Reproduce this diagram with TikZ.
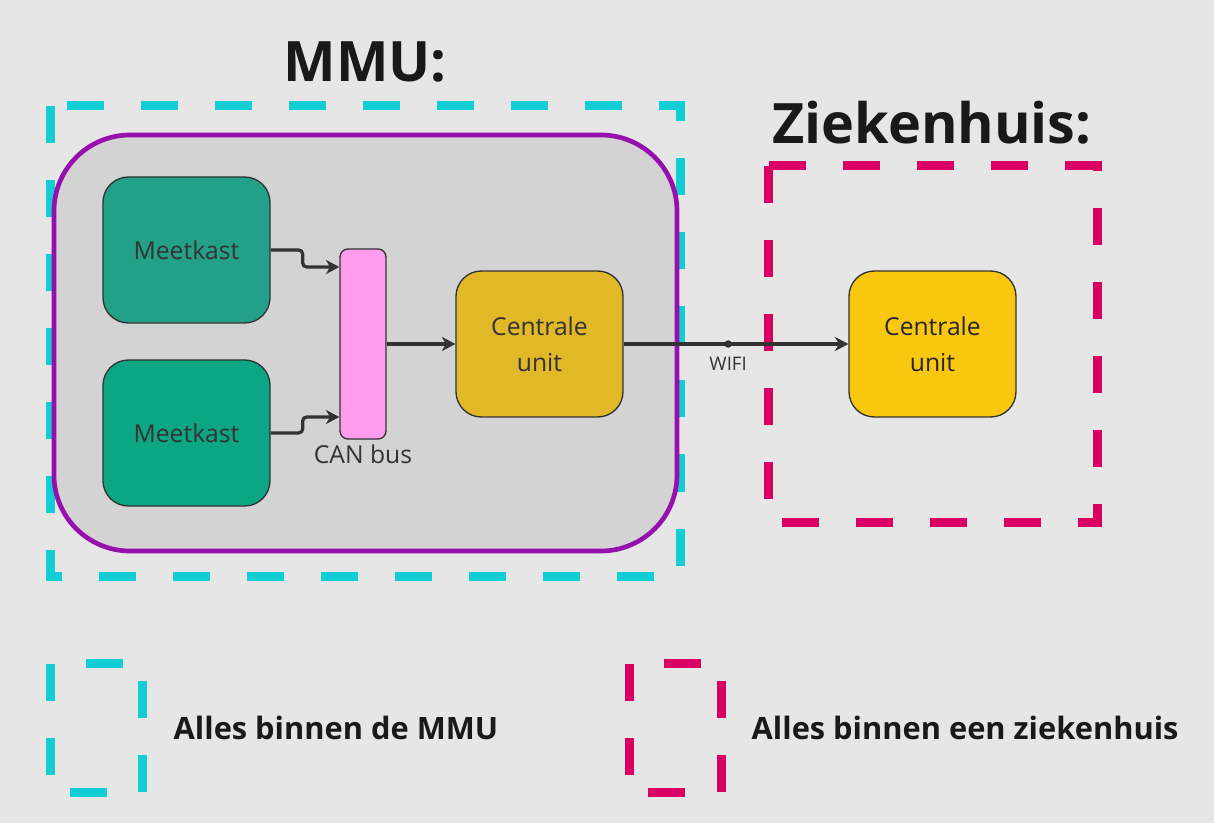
\documentclass[tikz,border=0pt]{standalone}
\usepackage{fontspec}
\setmainfont{Open Sans}
\usetikzlibrary{positioning,arrows.meta}

\definecolor{bggray}{HTML}{E6E6E6}
\definecolor{mmugray}{HTML}{D3D3D3}
\definecolor{mmupurple}{HTML}{9510AC}
\definecolor{mmucyan}{HTML}{12CDD4}
\definecolor{zhmagenta}{HTML}{DA0063}
\definecolor{kastgreen}{HTML}{23A088}
\definecolor{kastteal}{HTML}{0CA685}
\definecolor{buspink}{HTML}{FF9CEE}
\definecolor{unitgold}{HTML}{E1B827}
\definecolor{unityellow}{HTML}{FAC710}
\definecolor{linegray}{HTML}{333333}

\begin{document}
\begin{tikzpicture}[x=0.75pt,y=-0.75pt,
	box/.style={draw=linegray, line width=1pt, rounded corners=19pt,
		minimum width=125.25pt, minimum height=109.5pt, align=center,
		text=linegray, font=\fontsize{18.5}{27}\selectfont},
	busbox/.style={draw=linegray, line width=1pt, rounded corners=6pt,
		fill=buspink, minimum width=34.5pt, minimum height=142.5pt},
	conn/.style={draw=linegray, line width=2.4pt, rounded corners=3pt,
		-{Stealth[length=10pt,width=10.5pt,inset=3pt]}},
	region/.style={line width=6.75pt, dash pattern=on 27.75pt off 27.75pt},
	title/.style={font=\fontsize{41.8}{50}\selectfont\bfseries, text=black!90},
	legendtext/.style={font=\fontsize{23.1}{28}\selectfont\bfseries, text=black!90, anchor=west}]

	% achtergrond
	\fill [bggray] (0,0) rectangle (1214,823);

	% kaders
	\draw [region, mmucyan] (50.5,106) rectangle (680,576);
	\draw [mmupurple, fill=mmugray, line width=3.5pt, rounded corners=57pt]
		(54,135) rectangle (677,551);
	\draw [region, zhmagenta] (768,166) rectangle (1097,522);

	% titels
	\node [title] (mmutitle) at (365,62) {MMU:};
	\node [title] (zhtitle) at (932,123) {Ziekenhuis:};

	% blokken
	\node [box, fill=kastgreen] (kast1) at (186.5,250) {Meetkast};
	\node [box, fill=kastteal] (kast2) at (186.5,433) {Meetkast};
	\node [busbox] (canbus) at (363,344) {};
	\node [below=0pt of canbus, font=\fontsize{18.5}{22}\selectfont, text=linegray] (canlabel) {CAN bus};
	\node [box, fill=unitgold] (unit1) at (539.5,344) {Centrale\\unit};
	\node [box, fill=unityellow, text=black!85] (unit2) at (932.5,344) {Centrale\\unit};

	% verbindingen
	\draw [conn] (kast1.east) -- ++(32,0) |- ([yshift=57.75pt]canbus.west);
	\draw [conn] (kast2.east) -- ++(32,0) |- ([yshift=-54.75pt]canbus.west);
	\draw [conn] (canbus.east) -- (unit1.west);
	\draw [conn] (unit1.east) -- (unit2.west)
		node [pos=0.465, circle, fill=linegray, inner sep=2pt,
			label={[font=\fontsize{14}{16}\selectfont, text=linegray, yshift=-1pt]below:WIFI}] (wifi) {};

	% legenda
	\draw [region, mmucyan] (50.5,663.5) rectangle (142.5,792.5);
	\node [legendtext] (mmulegend) at (169,728) {Alles binnen de MMU};
	\draw [region, zhmagenta] (629,663.5) rectangle (721,792.5);
	\node [legendtext] (zhlegend) at (747,728) {Alles binnen een ziekenhuis};
\end{tikzpicture}
\end{document}
